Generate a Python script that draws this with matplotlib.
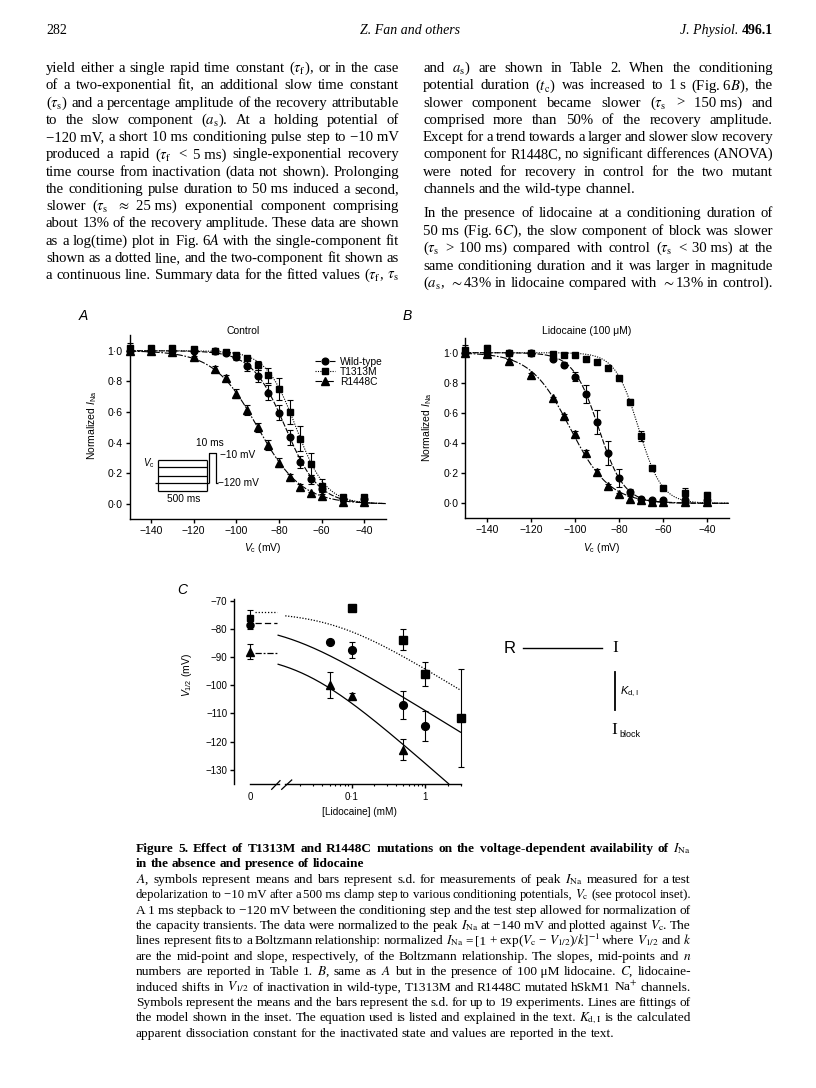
import matplotlib
matplotlib.use('Agg')
import matplotlib.pyplot as plt
import numpy as np
from matplotlib.lines import Line2D

W, H = 816, 1088
MINUS = '\u2212'

# ---------------- data: panels A and B (normalized I_Na vs Vc) ----------------
vc = [-150, -140, -130, -120, -110, -105, -100, -95, -90, -85, -80, -75, -70, -65, -60, -50, -40]
genotypes = ['Wild-type', 'T1313M', 'R1448C']

wt_A = [1.0, 1.0, 1.0, 1.0, 1.0, 0.987, 0.957, 0.90, 0.835, 0.726, 0.596, 0.435, 0.276, 0.161, 0.096, 0.03, 0.03]
wt_A_err = [0.01, 0.01, 0.01, 0.01, 0.01, 0.01, 0.015, 0.03, 0.04, 0.05, 0.05, 0.05, 0.04, 0.03, 0.02, 0.01, 0.01]
t_A = [1.02, 1.02, 1.015, 1.01, 1.0, 0.99, 0.97, 0.95, 0.905, 0.84, 0.75, 0.60, 0.426, 0.26, 0.12, 0.048, 0.048]
t_A_err = [0.03, 0.01, 0.01, 0.01, 0.01, 0.01, 0.01, 0.015, 0.03, 0.05, 0.07, 0.08, 0.08, 0.07, 0.04, 0.01, 0.01]
r_A = [1.0, 1.0, 0.99, 0.957, 0.878, 0.82, 0.72, 0.613, 0.50, 0.385, 0.27, 0.178, 0.113, 0.07, 0.052, 0.015, 0.013]
r_A_err = [0.01, 0.01, 0.01, 0.01, 0.02, 0.02, 0.03, 0.03, 0.03, 0.03, 0.03, 0.02, 0.02, 0.01, 0.01, 0.005, 0.005]

wt_B = [1.0, 1.0, 1.0, 1.0, 0.96, 0.92, 0.84, 0.726, 0.538, 0.332, 0.166, 0.077, 0.029, 0.02, 0.02, 0.02, 0.02]
wt_B_err = [0.01, 0.01, 0.01, 0.01, 0.01, 0.015, 0.03, 0.06, 0.08, 0.08, 0.06, 0.02, 0.01, 0.01, 0.01, 0.01, 0.01]
t_B = [1.02, 1.03, 1.0, 1.0, 0.99, 0.985, 0.985, 0.955, 0.94, 0.896, 0.83, 0.675, 0.447, 0.237, 0.104, 0.07, 0.055]
t_B_err = [0.03, 0.02, 0.01, 0.01, 0.01, 0.01, 0.01, 0.01, 0.01, 0.01, 0.01, 0.02, 0.03, 0.02, 0.01, 0.03, 0.02]
r_B = [1.0, 0.99, 0.947, 0.852, 0.697, 0.58, 0.46, 0.332, 0.206, 0.117, 0.06, 0.03, 0.02, 0.01, 0.01, 0.01, 0.01]
r_B_err = [0.01, 0.01, 0.01, 0.01, 0.01, 0.01, 0.02, 0.02, 0.02, 0.01, 0.01, 0.02, 0.01, 0.005, 0.005, 0.005, 0.005]

# Boltzmann fit parameters [WT, T1313M, R1448C]
A_vhalf = [-77.0, -72.0, -90.0]
A_slope = [7.8, 7.0, 10.3]
B_vhalf = [-89.3, -71.1, -102.3]
B_slope = [5.8, 5.3, 9.0]

ab_xticks = [-140, -120, -100, -80, -60, -40]
ab_xticklabels = [MINUS + '140', MINUS + '120', MINUS + '100', MINUS + '80', MINUS + '60', MINUS + '40']
ab_yticks = [0.0, 0.2, 0.4, 0.6, 0.8, 1.0]
ab_yticklabels = ['0\u00b70', '0\u00b72', '0\u00b74', '0\u00b76', '0\u00b78', '1\u00b70']

# ---------------- data: panel C (V1/2 vs [lidocaine]) ----------------
ctrl_v = [-78.6, -76.0, -88.1]          # at 0 mM  [WT, T1313M, R1448C]
ctrl_err = [1.5, 2.7, 2.7]
wt_conc = [0.05, 0.1, 0.5, 1.0]
wt_vh = [-84.5, -87.5, -107.0, -114.6]
wt_vh_err = [0.0, 3.0, 5.0, 5.3]
t_conc = [0.1, 0.5, 1.0, 3.0]
t_vh = [-72.5, -83.9, -96.0, -111.7]
t_vh_err = [0.0, 3.7, 4.3, 17.5]
r_conc = [0.05, 0.1, 0.5]
r_vh = [-99.9, -103.7, -122.9]
r_vh_err = [4.5, 1.0, 3.8]
# model fit parameters [WT, T1313M, R1448C]
C_v0 = [-78.0, -74.0, -88.5]
C_slope = [7.0, 7.0, 10.0]
C_kd = [0.012, 0.058, 0.02]

c_yticks = [-70, -80, -90, -100, -110, -120, -130]
c_yticklabels = [MINUS + '70', MINUS + '80', MINUS + '90', MINUS + '100', MINUS + '110', MINUS + '120', MINUS + '130']
c_xticks = [0.1, 1.0]
c_xticklabels = ['0\u00b71', '1']
c_minor = [0.02, 0.03, 0.04, 0.05, 0.06, 0.07, 0.08, 0.09, 0.2, 0.3, 0.4, 0.5, 0.6, 0.7, 0.8, 0.9, 2, 3]

# ---------------- page text ----------------
left_col = [
    r"yield either a single rapid time constant ($\tau_\mathrm{f}$), or in the case",
    r"of a two-exponential fit, an additional slow time constant",
    r"($\tau_\mathrm{s}$) and a percentage amplitude of the recovery attributable",
    r"to the slow component ($a_\mathrm{s}$). At a holding potential of",
    "\u2212120~mV, a short 10~ms conditioning pulse step to \u221210~mV",
    r"produced a rapid ($\tau_\mathrm{f}$ < 5~ms) single-exponential recovery",
    r"time course from inactivation (data not shown). Prolonging",
    r"the conditioning pulse duration to 50~ms induced a second,",
    r"slower ($\tau_\mathrm{s}$ $\approx$ 25~ms) exponential component comprising",
    r"about 13% of the recovery amplitude. These data are shown",
    r"as a log(time) plot in Fig.~6$A$ with the single-component fit",
    r"shown as a dotted line, and the two-component fit shown as",
    r"a continuous line. Summary data for the fitted values ($\tau_\mathrm{f}$, $\tau_\mathrm{s}$",
]
right_col_1 = [
    r"and $a_\mathrm{s}$) are shown in Table 2. When the conditioning",
    r"potential duration ($t_\mathrm{c}$) was increased to 1~s (Fig.~6$B$), the",
    r"slower component became slower ($\tau_\mathrm{s}$ > 150~ms) and",
    r"comprised more than 50% of the recovery amplitude.",
    r"Except for a trend towards a larger and slower slow recovery",
    r"component for R1448C, no significant differences (ANOVA)",
    r"were noted for recovery in control for the two mutant",
    r"channels and the wild-type channel.",
]
right_col_2 = [
    r"In the presence of lidocaine at a conditioning duration of",
    r"50~ms (Fig.~6$C$), the slow component of block was slower",
    r"($\tau_\mathrm{s}$ > 100~ms) compared with control ($\tau_\mathrm{s}$ < 30~ms) at the",
    r"same conditioning duration and it was larger in magnitude",
    r"($a_\mathrm{s}$, $\sim$43% in lidocaine compared with $\sim$13% in control).",
]
caption_title = [
    r"Figure 5. Effect of T1313M and R1448C mutations on the voltage-dependent availability of $I_\mathrm{Na}$",
    r"in the absence and presence of lidocaine",
]
caption_body = [
    r"$A$, symbols represent means and bars represent s.d. for measurements of peak $I_\mathrm{Na}$ measured for a test",
    "depolarization to \u221210~mV after a 500~ms clamp step to various conditioning potentials, $V_\\mathrm{c}$ (see protocol inset).",
    "A 1~ms stepback to \u2212120~mV between the conditioning step and the test step allowed for normalization of",
    "the capacity transients. The data were normalized to the peak $I_\\mathrm{Na}$ at \u2212140~mV and plotted against $V_\\mathrm{c}$. The",
    "lines represent fits to a Boltzmann relationship: normalized $I_\\mathrm{Na}$ = [1 + exp($V_\\mathrm{c}$ \u2212 $V_{1/2}$)/$k$]$^{-1}$ where $V_{1/2}$ and $k$",
    r"are the mid-point and slope, respectively, of the Boltzmann relationship. The slopes, mid-points and $n$",
    "numbers are reported in Table 1. $B$, same as $A$ but in the presence of 100~\u03bcM lidocaine. $C$, lidocaine-",
    r"induced shifts in $V_{1/2}$ of inactivation in wild-type, T1313M and R1448C mutated hSkM1 Na$^{+}$ channels.",
    r"Symbols represent the means and the bars represent the s.d. for up to 19 experiments. Lines are fittings of",
    r"the model shown in the inset. The equation used is listed and explained in the text. $K_\mathrm{d,I}$ is the calculated",
    r"apparent dissociation constant for the inactivated state and values are reported in the text.",
]

# ---------------- style ----------------
plt.rcParams.update({
    'font.family': ['Liberation Sans', 'DejaVu Sans'],
    'mathtext.fontset': 'custom',
    'mathtext.rm': 'Liberation Sans',
    'mathtext.it': 'Liberation Sans:italic',
    'mathtext.bf': 'Liberation Sans:bold',
    'axes.linewidth': 1.0,
    'xtick.major.width': 1.0, 'ytick.major.width': 1.0,
    'xtick.major.size': 2.6, 'ytick.major.size': 2.6,
    'xtick.minor.size': 1.6, 'xtick.minor.width': 0.8,
    'xtick.major.pad': 2.5, 'ytick.major.pad': 2.5,
    'xtick.labelsize': 7.5, 'ytick.labelsize': 7.5,
    'xtick.direction': 'out', 'ytick.direction': 'out',
})

fig = plt.figure(figsize=(W / 100, H / 100), dpi=100)
fig.patch.set_facecolor('white')
renderer = fig.canvas.get_renderer()


def fx(x):
    return x / W


def fy(y):
    return 1 - y / H


def axes_px(x0, y0, x1, y1, **kw):
    return fig.add_axes([fx(x0), fy(y1), (x1 - x0) / W, (y1 - y0) / H], **kw)


def set_line(s, x0, x1, yc, size, justify, family='Liberation Serif', weight='normal', style='normal'):
    words = [w.replace('~', ' ') for w in s.split(' ')]
    while True:
        em = size * 100 / 72
        objs = [fig.text(0, fy(yc + 0.28 * em), w, fontsize=size, family=family, weight=weight,
                         style=style, math_fontfamily='stix', va='baseline', ha='left') for w in words]
        ws = [o.get_window_extent(renderer).width for o in objs]
        n = len(words)
        if justify and n > 1:
            gap = (x1 - x0 - sum(ws)) / (n - 1)
        else:
            gap = 0.25 * em
        if gap >= 0.18 * em or size < 6:
            break
        for o in objs:
            o.remove()
        size -= 0.1
    x = x0
    for o, w in zip(objs, ws):
        o.set_x(fx(x))
        x += w + gap


# ---------------- header and body text ----------------
fig.text(fx(46), fy(34), '282', family='Liberation Serif', fontsize=10, va='baseline', ha='left')
fig.text(fx(410), fy(34), 'Z. Fan and others', family='Liberation Serif', style='italic',
         fontsize=10, va='baseline', ha='center')
t496 = fig.text(fx(773), fy(34), '496.1', family='Liberation Serif', weight='bold',
                fontsize=10, va='baseline', ha='right')
w496 = t496.get_window_extent(renderer).width
fig.text(fx(773 - w496 - 3), fy(34), 'J. Physiol.', family='Liberation Serif', style='italic',
         fontsize=10, va='baseline', ha='right')

BODY = 10.6
for i, s in enumerate(left_col):
    set_line(s, 46, 399, 68 + 17.25 * i, BODY, justify=True)
for i, s in enumerate(right_col_1):
    set_line(s, 423, 773, 68 + 17.25 * i, BODY, justify=(i < len(right_col_1) - 1))
for i, s in enumerate(right_col_2):
    set_line(s, 423, 773, 213 + 17.5 * i, BODY, justify=True)

CAP = 9.6
set_line(caption_title[0], 136, 691, 848, CAP, justify=True, weight='bold')
set_line(caption_title[1], 136, 691, 863.5, CAP, justify=False, weight='bold')
for i, s in enumerate(caption_body):
    set_line(s, 136, 691, 879 + 15.4 * i, CAP, justify=(i < len(caption_body) - 1))

# ---------------- panels A and B ----------------
markers = ['o', 's', '^']
msizes = [4.8, 4.4, 5.2]
fit_styles = [(0, (5, 1.5)), (0, (1, 1.2)), (0, (6, 1.5, 1.5, 1.5))]
draw_order = [2, 0, 1]


def boltz(v, vh, k):
    return 1.0 / (1.0 + np.exp((np.asarray(v) - vh) / k))


def iv_panel(ax, series, errs, vhalf, slope):
    vv = np.linspace(-150, -30, 400)
    for i in draw_order:
        ax.plot(vv, boltz(vv, vhalf[i], slope[i]), color='k', lw=0.8, ls=fit_styles[i], zorder=2)
    for i in draw_order:
        ax.errorbar(vc, series[i], yerr=errs[i], fmt=markers[i], ms=msizes[i], color='k', ecolor='k',
                    elinewidth=0.8, capsize=2.0, capthick=0.8, clip_on=False, zorder=3 + i)
    ax.set_xlim(-150, -30)
    ax.set_ylim(-0.1, 1.1)
    ax.set_xticks(ab_xticks)
    ax.set_xticklabels(ab_xticklabels)
    ax.set_yticks(ab_yticks)
    ax.set_yticklabels(ab_yticklabels)
    for sp in ('top', 'right'):
        ax.spines[sp].set_visible(False)
    ax.patch.set_alpha(0)


axA = axes_px(129.7, 335.4, 385.6, 519.3)
iv_panel(axA, [wt_A, t_A, r_A], [wt_A_err, t_A_err, r_A_err], A_vhalf, A_slope)
axB = axes_px(465.4, 337.6, 728.7, 518.4)
iv_panel(axB, [wt_B, t_B, r_B], [wt_B_err, t_B_err, r_B_err], B_vhalf, B_slope)

handles = [Line2D([], [], color='k', lw=0.8, ls=fit_styles[i], marker=markers[i], ms=msizes[i])
           for i in range(3)]
fig.legend(handles, genotypes, loc='upper left', bbox_to_anchor=(fx(315), fy(357)),
           frameon=False, fontsize=7.4, handlelength=1.9, handletextpad=0.5,
           labelspacing=0.0, borderpad=0, borderaxespad=0, numpoints=1)

fig.text(fx(83), fy(316), 'A', fontsize=10, style='italic', ha='center', va='center')
fig.text(fx(407), fy(316), 'B', fontsize=10, style='italic', ha='center', va='center')
fig.text(fx(243), fy(331), 'Control', fontsize=7.5, ha='center', va='center')
fig.text(fx(587), fy(331), 'Lidocaine (100 \u03bcM)', fontsize=7.5, ha='center', va='center')
fig.text(fx(92), fy(425), r'Normalized $I_\mathrm{Na}$', fontsize=7.5, rotation=90, ha='center', va='center')
fig.text(fx(427), fy(427), r'Normalized $I_\mathrm{Na}$', fontsize=7.5, rotation=90, ha='center', va='center')
fig.text(fx(263), fy(548), r'$V_\mathrm{c}$ (mV)', fontsize=7.5, ha='center', va='center')
fig.text(fx(602), fy(548), r'$V_\mathrm{c}$ (mV)', fontsize=7.5, ha='center', va='center')

# ---------------- panel C ----------------
cy0, cy1 = 599.3, 783.8
axC0 = axes_px(234.5, cy0, 279, cy1)
axC1 = axes_px(285, cy0, 460.5, cy1)
for ax in (axC0, axC1):
    ax.set_ylim(-135, -69.5)
    ax.patch.set_alpha(0)
    ax.spines['top'].set_visible(False)
    ax.spines['right'].set_visible(False)

axC0.set_xlim(-0.534, 1.0)
axC0.spines['bottom'].set_bounds(0, 1.0)
axC0.set_xticks([0])
axC0.set_xticklabels(['0'])
axC0.tick_params(axis='x', length=0, pad=6, labelsize=7)
axC0.set_yticks(c_yticks)
axC0.set_yticklabels(c_yticklabels)
axC0.tick_params(axis='y', labelsize=7)

zero_styles = [(0, (5, 2.5)), (0, (1, 1.5)), (0, (5, 1.5, 1.5, 1.5))]
for i in range(3):
    axC0.plot([0.17, 0.93], [C_v0[i], C_v0[i]], color='k', lw=0.9, ls=zero_styles[i], clip_on=False)
for i in draw_order:
    axC0.errorbar([0], [ctrl_v[i]], yerr=[ctrl_err[i]], fmt=markers[i], ms=msizes[i] + 0.3, color='k',
                  ecolor='k', elinewidth=0.8, capsize=2.0, capthick=0.8, clip_on=False, zorder=3 + i)

axC1.set_xscale('log')
axC1.set_xlim(0.0124, 3.0)
axC1.spines['left'].set_visible(False)
axC1.set_yticks([])
axC1.set_xticks(c_xticks)
axC1.set_xticklabels(c_xticklabels)
axC1.set_xticks(c_minor, minor=True)
axC1.set_xticklabels([], minor=True)
axC1.tick_params(axis='x', labelsize=7, pad=3.5)

curve_styles = ['-', (0, (1, 1.3)), '-']
curve_start = [0.0100, 0.0125, 0.0100]
for i in range(3):
    cc = np.logspace(np.log10(curve_start[i]), np.log10(3.0), 400)
    vv = C_v0[i] - C_slope[i] * np.log(1 + cc / C_kd[i])
    keep = vv >= -135
    axC1.plot(cc[keep], vv[keep], color='k', lw=0.9, ls=curve_styles[i], clip_on=False)

c_sets = [(wt_conc, wt_vh, wt_vh_err), (t_conc, t_vh, t_vh_err), (r_conc, r_vh, r_vh_err)]
for i in draw_order:
    cx, cyv, ce = c_sets[i]
    axC1.errorbar(cx, cyv, yerr=ce, fmt=markers[i], ms=msizes[i] + 0.8, color='k', ecolor='k',
                  elinewidth=0.8, capsize=2.2, capthick=0.8, clip_on=False, zorder=3 + i)

fig.text(fx(182), fy(590), 'C', fontsize=10, style='italic', ha='center', va='center')
fig.text(fx(187), fy(675), r'$V_{1/2}$ (mV)', fontsize=7.5, rotation=90, ha='center', va='center')
fig.text(fx(359), fy(812), '[Lidocaine] (mM)', fontsize=7.2, ha='center', va='center')

# ---------------- overlay drawings (inset protocol, axis break, scheme) ----------------
ov = fig.add_axes([0, 0, 1, 1], zorder=10)
ov.set_xlim(0, W)
ov.set_ylim(H, 0)
ov.set_axis_off()
lk = dict(color='k', lw=0.9, solid_capstyle='butt')
for yy in [460, 467.3, 476, 490.7]:
    ov.plot([158.3, 207.3], [yy, yy], **lk)
ov.plot([155.3, 209.3], [483.3, 483.3], **lk)
ov.plot([158.3, 158.3], [460, 490.7], **lk)
ov.plot([207.3, 207.3], [460, 490.7], **lk)
ov.plot([209.3, 209.3, 215.7, 215.7, 218.0], [483.3, 452.7, 452.7, 483.3, 483.3], **lk)
ov.text(148.5, 463, r'$V_\mathrm{c}$', fontsize=7, ha='center', va='center')
ov.text(209.5, 443.5, '10 ms', fontsize=7.3, ha='center', va='center')
ov.text(219.5, 455, MINUS + '10 mV', fontsize=7.3, ha='left', va='center')
ov.text(218.5, 483.3, MINUS + '120 mV', fontsize=7.3, ha='left', va='center')
ov.text(184, 499.3, '500 ms', fontsize=7.3, ha='center', va='center')

# axis break marks in C
ov.plot([271.7, 280.0], [789.3, 780.7], color='k', lw=0.9)
ov.plot([281.7, 291.7], [789.3, 780.0], color='k', lw=0.9)

# kinetic scheme in C
ov.text(509.3, 648.3, 'R', fontsize=12, ha='center', va='center')
ov.plot([523.3, 601.7], [648.3, 648.3], color='k', lw=1.0)
ov.text(615, 648.3, 'I', fontsize=12.5, family='Liberation Serif', ha='center', va='center')
ov.plot([615, 615], [671.7, 710], color='k', lw=1.3)
ov.text(620, 692, r'$K_\mathrm{d,I}$', fontsize=8, ha='left', va='center')
ov.text(614, 730, 'I', fontsize=12.5, family='Liberation Serif', ha='center', va='center')
ov.text(619, 734.5, 'block', fontsize=6.5, ha='left', va='center')

fig.savefig('out.png', dpi=100)
